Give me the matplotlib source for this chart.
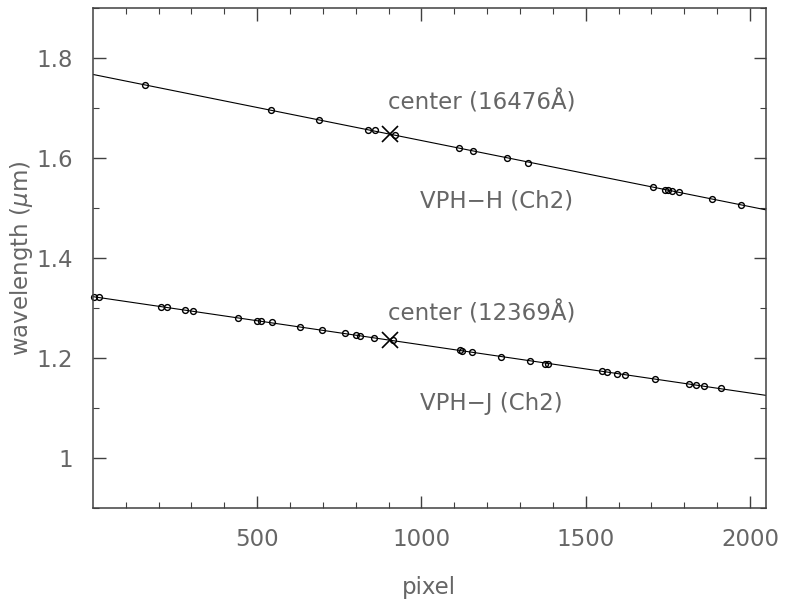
import numpy as np
import matplotlib
matplotlib.use('Agg')
import matplotlib.pyplot as plt

# Линии из отдельных кругов (пиксель, длина волны в мкм)
h_pix = [158, 541, 688, 836, 858, 919, 1114, 1157, 1259, 1325,
         1706, 1742, 1750, 1764, 1784, 1884, 1974]
h_wave = [1.7458, 1.6956, 1.6755, 1.6560, 1.6548, 1.6454, 1.6199, 1.6139, 1.6006, 1.5906,
          1.5416, 1.5363, 1.5355, 1.5343, 1.5315, 1.5183, 1.5054]

j_pix = [4, 18, 208, 226, 281, 305, 441, 500, 512, 545, 629, 698, 767, 800, 814, 855, 912,
         1117, 1125, 1154, 1243, 1330, 1377, 1385, 1551, 1566, 1596, 1619, 1712, 1815, 1835,
         1860, 1913]
j_wave = [1.3225, 1.3219, 1.3024, 1.3012, 1.2958, 1.2932, 1.2803, 1.2743, 1.2737, 1.2711,
          1.2622, 1.2550, 1.2490, 1.2456, 1.2430, 1.2390, 1.2355, 1.2155, 1.2149, 1.2114,
          1.2020, 1.1940, 1.1888, 1.1880, 1.1733, 1.1719, 1.1683, 1.1667, 1.1578, 1.1482,
          1.1466, 1.1446, 1.1396]

# Центры
center_pix = [905, 905]
center_wave = [1.6476, 1.2369]
center_labels = ['center (16476Å)', 'center (12369Å)']
grating_labels = ['VPH\u2212H (Ch2)', 'VPH\u2212J (Ch2)']

TXT = '#666666'
FS = 16.5

fig = plt.figure(figsize=(7.87, 6.02), dpi=100)
ax = fig.add_axes([0.118, 0.156, 0.855, 0.831])

x_line = np.array([0, 2048])
for px, wv in [(h_pix, h_wave), (j_pix, j_wave)]:
    fit = np.polyfit(px, wv, 1)  # линейная аппроксимация
    ax.plot(x_line, np.polyval(fit, x_line), color='black', lw=0.8)
    ax.plot(px, wv, 'o', mfc='none', mec='black', ms=4.2, mew=1.0, clip_on=False)

ax.plot(center_pix, center_wave, 'x', color='black', ms=11, mew=1.2)

# Подписи
ax.text(899, 1.712, center_labels[0], fontsize=FS, color=TXT, va='center')
ax.text(995, 1.5135, grating_labels[0], fontsize=FS, color=TXT, va='center')
ax.text(899, 1.2898, center_labels[1], fontsize=FS, color=TXT, va='center')
ax.text(995, 1.109, grating_labels[1], fontsize=FS, color=TXT, va='center')

ax.set_xlim(0, 2048)
ax.set_ylim(0.9, 1.9)
ax.set_xticks([500, 1000, 1500, 2000])
ax.set_xticks(np.arange(100, 2048, 100), minor=True)
ax.set_yticks([1.0, 1.2, 1.4, 1.6, 1.8])
ax.set_yticklabels(['1', '1.2', '1.4', '1.6', '1.8'])
ax.set_yticks(np.arange(0.9, 1.91, 0.1), minor=True)

ax.tick_params(which='both', direction='in', top=True, right=True, colors='#404040',
               labelcolor=TXT, labelsize=FS, pad=14)
ax.tick_params(which='major', length=9, width=1.0)
ax.tick_params(which='minor', length=4.5, width=0.8)
for s in ax.spines.values():
    s.set_color('#404040')
    s.set_linewidth(1.1)

ax.set_xlabel('pixel', fontsize=FS, color=TXT, labelpad=18)
ax.set_ylabel(r'wavelength ($\mu$m)', fontsize=FS, color=TXT, labelpad=1)

fig.savefig('out.png', dpi=100)
